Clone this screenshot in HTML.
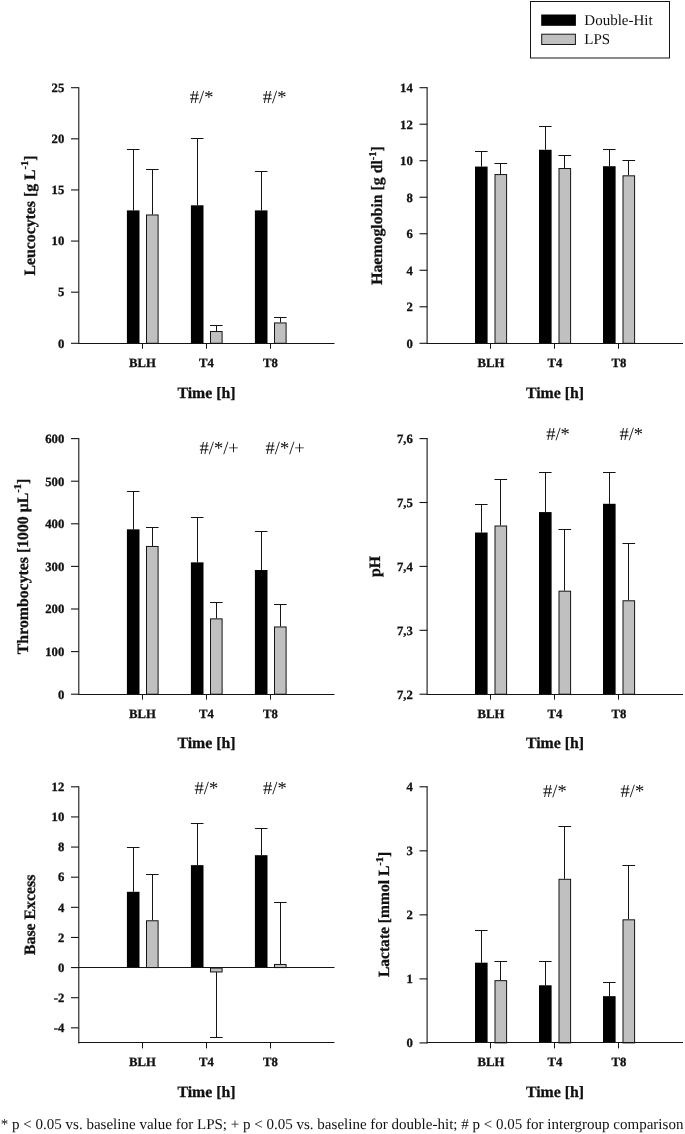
<!DOCTYPE html>
<html lang="en"><head><meta charset="utf-8"><title>Figure</title>
<style>
html,body{margin:0;padding:0;background:#fff;}
svg{display:block;font-family:"Liberation Serif","DejaVu Serif",serif;fill:#111;text-rendering:geometricPrecision;}
</style></head>
<body>
<svg width="685" height="1134" viewBox="0 0 685 1134">
<rect width="685" height="1134" fill="#fff"/>
<g opacity="0.999">
<g>
<line x1="133.5" y1="210.39" x2="133.5" y2="149.04" stroke="#141414" stroke-width="1"/>
<line x1="126.9" y1="149.5" x2="139.5" y2="149.5" stroke="#141414" stroke-width="1"/>
<rect x="126.9" y="210.39" width="12.6" height="132.91" fill="#000"/>
<line x1="152.5" y1="214.48" x2="152.5" y2="169.49" stroke="#141414" stroke-width="1"/>
<line x1="146" y1="169.5" x2="158.6" y2="169.5" stroke="#141414" stroke-width="1"/>
<rect x="146.5" y="214.98" width="11.6" height="128.32" fill="#c0c0c0" stroke="#141414" stroke-width="1"/>
<line x1="197.5" y1="205.28" x2="197.5" y2="138.82" stroke="#141414" stroke-width="1"/>
<line x1="190.9" y1="138.5" x2="203.5" y2="138.5" stroke="#141414" stroke-width="1"/>
<rect x="190.9" y="205.28" width="12.6" height="138.02" fill="#000"/>
<line x1="216.5" y1="331.03" x2="216.5" y2="325.71" stroke="#141414" stroke-width="1"/>
<line x1="210" y1="325.5" x2="222.6" y2="325.5" stroke="#141414" stroke-width="1"/>
<rect x="210.5" y="331.53" width="11.6" height="11.77" fill="#c0c0c0" stroke="#141414" stroke-width="1"/>
<line x1="261.5" y1="210.39" x2="261.5" y2="171.54" stroke="#141414" stroke-width="1"/>
<line x1="254.9" y1="171.5" x2="267.5" y2="171.5" stroke="#141414" stroke-width="1"/>
<rect x="254.9" y="210.39" width="12.6" height="132.91" fill="#000"/>
<line x1="280.5" y1="322.44" x2="280.5" y2="317.74" stroke="#141414" stroke-width="1"/>
<line x1="274" y1="317.5" x2="286.6" y2="317.5" stroke="#141414" stroke-width="1"/>
<rect x="274.5" y="322.94" width="11.6" height="20.36" fill="#c0c0c0" stroke="#141414" stroke-width="1"/>
<line x1="78.8" y1="87.2" x2="78.8" y2="343.8" stroke="#141414" stroke-width="1.1"/>
<line x1="78.5" y1="343.5" x2="334.5" y2="343.5" stroke="#141414" stroke-width="1"/>
<line x1="71" y1="343.3" x2="78.8" y2="343.3" stroke="#141414" stroke-width="1.1"/>
<text x="64.3" y="347.6" font-size="12.7" font-weight="bold" text-anchor="end" stroke="#111" stroke-width="0.3">0</text>
<line x1="71" y1="292.18" x2="78.8" y2="292.18" stroke="#141414" stroke-width="1.1"/>
<text x="64.3" y="296.48" font-size="12.7" font-weight="bold" text-anchor="end" stroke="#111" stroke-width="0.3">5</text>
<line x1="71" y1="241.06" x2="78.8" y2="241.06" stroke="#141414" stroke-width="1.1"/>
<text x="64.3" y="245.36" font-size="12.7" font-weight="bold" text-anchor="end" stroke="#111" stroke-width="0.3">10</text>
<line x1="71" y1="189.94" x2="78.8" y2="189.94" stroke="#141414" stroke-width="1.1"/>
<text x="64.3" y="194.24" font-size="12.7" font-weight="bold" text-anchor="end" stroke="#111" stroke-width="0.3">15</text>
<line x1="71" y1="138.82" x2="78.8" y2="138.82" stroke="#141414" stroke-width="1.1"/>
<text x="64.3" y="143.12" font-size="12.7" font-weight="bold" text-anchor="end" stroke="#111" stroke-width="0.3">20</text>
<line x1="71" y1="87.7" x2="78.8" y2="87.7" stroke="#141414" stroke-width="1.1"/>
<text x="64.3" y="92" font-size="12.7" font-weight="bold" text-anchor="end" stroke="#111" stroke-width="0.3">25</text>
<line x1="142.5" y1="343.3" x2="142.5" y2="348.8" stroke="#141414" stroke-width="1"/>
<text x="142.5" y="366.6" font-size="12.7" font-weight="bold" text-anchor="middle" stroke="#111" stroke-width="0.3">BLH</text>
<line x1="206.5" y1="343.3" x2="206.5" y2="348.8" stroke="#141414" stroke-width="1"/>
<text x="206.5" y="366.6" font-size="12.7" font-weight="bold" text-anchor="middle" stroke="#111" stroke-width="0.3">T4</text>
<line x1="270.5" y1="343.3" x2="270.5" y2="348.8" stroke="#141414" stroke-width="1"/>
<text x="270.5" y="366.6" font-size="12.7" font-weight="bold" text-anchor="middle" stroke="#111" stroke-width="0.3">T8</text>
<text x="206.5" y="397.5" font-size="15.8" font-weight="bold" text-anchor="middle" stroke="#111" stroke-width="0.3">Time [h]</text>
<text transform="translate(34.5 215.5) rotate(-90)" font-size="15.8" font-weight="bold" text-anchor="middle" stroke="#111" stroke-width="0.3">Leucocytes [g L<tspan dy="-6.5" font-size="10.5">-1</tspan><tspan dy="6.5">]</tspan></text>
<text x="201.6" y="102.5" font-size="18.5" font-weight="normal" text-anchor="middle">#/*</text>
<text x="274.6" y="102.5" font-size="18.5" font-weight="normal" text-anchor="middle">#/*</text>
</g>
<g>
<line x1="481.5" y1="166.57" x2="481.5" y2="151.05" stroke="#141414" stroke-width="1"/>
<line x1="475" y1="151.5" x2="487.6" y2="151.5" stroke="#141414" stroke-width="1"/>
<rect x="475" y="166.57" width="12.6" height="176.73" fill="#000"/>
<line x1="500.5" y1="174.06" x2="500.5" y2="163.65" stroke="#141414" stroke-width="1"/>
<line x1="494.5" y1="163.5" x2="507.1" y2="163.5" stroke="#141414" stroke-width="1"/>
<rect x="495" y="174.56" width="11.6" height="168.74" fill="#c0c0c0" stroke="#141414" stroke-width="1"/>
<line x1="545.5" y1="149.77" x2="545.5" y2="126.04" stroke="#141414" stroke-width="1"/>
<line x1="539" y1="126.5" x2="551.6" y2="126.5" stroke="#141414" stroke-width="1"/>
<rect x="539" y="149.77" width="12.6" height="193.53" fill="#000"/>
<line x1="564.5" y1="168.03" x2="564.5" y2="155.25" stroke="#141414" stroke-width="1"/>
<line x1="558.5" y1="155.5" x2="571.1" y2="155.5" stroke="#141414" stroke-width="1"/>
<rect x="559" y="168.53" width="11.6" height="174.77" fill="#c0c0c0" stroke="#141414" stroke-width="1"/>
<line x1="609.5" y1="166.21" x2="609.5" y2="149.23" stroke="#141414" stroke-width="1"/>
<line x1="603" y1="149.5" x2="615.6" y2="149.5" stroke="#141414" stroke-width="1"/>
<rect x="603" y="166.21" width="12.6" height="177.09" fill="#000"/>
<line x1="628.5" y1="175.33" x2="628.5" y2="160.73" stroke="#141414" stroke-width="1"/>
<line x1="622.5" y1="160.5" x2="635.1" y2="160.5" stroke="#141414" stroke-width="1"/>
<rect x="623" y="175.83" width="11.6" height="167.47" fill="#c0c0c0" stroke="#141414" stroke-width="1"/>
<line x1="427.1" y1="87.2" x2="427.1" y2="343.8" stroke="#141414" stroke-width="1.1"/>
<line x1="427" y1="343.5" x2="683" y2="343.5" stroke="#141414" stroke-width="1"/>
<line x1="419.5" y1="343.3" x2="427.3" y2="343.3" stroke="#141414" stroke-width="1.1"/>
<text x="412.8" y="347.6" font-size="12.7" font-weight="bold" text-anchor="end" stroke="#111" stroke-width="0.3">0</text>
<line x1="419.5" y1="306.79" x2="427.3" y2="306.79" stroke="#141414" stroke-width="1.1"/>
<text x="412.8" y="311.09" font-size="12.7" font-weight="bold" text-anchor="end" stroke="#111" stroke-width="0.3">2</text>
<line x1="419.5" y1="270.27" x2="427.3" y2="270.27" stroke="#141414" stroke-width="1.1"/>
<text x="412.8" y="274.57" font-size="12.7" font-weight="bold" text-anchor="end" stroke="#111" stroke-width="0.3">4</text>
<line x1="419.5" y1="233.76" x2="427.3" y2="233.76" stroke="#141414" stroke-width="1.1"/>
<text x="412.8" y="238.06" font-size="12.7" font-weight="bold" text-anchor="end" stroke="#111" stroke-width="0.3">6</text>
<line x1="419.5" y1="197.24" x2="427.3" y2="197.24" stroke="#141414" stroke-width="1.1"/>
<text x="412.8" y="201.54" font-size="12.7" font-weight="bold" text-anchor="end" stroke="#111" stroke-width="0.3">8</text>
<line x1="419.5" y1="160.73" x2="427.3" y2="160.73" stroke="#141414" stroke-width="1.1"/>
<text x="412.8" y="165.03" font-size="12.7" font-weight="bold" text-anchor="end" stroke="#111" stroke-width="0.3">10</text>
<line x1="419.5" y1="124.21" x2="427.3" y2="124.21" stroke="#141414" stroke-width="1.1"/>
<text x="412.8" y="128.51" font-size="12.7" font-weight="bold" text-anchor="end" stroke="#111" stroke-width="0.3">12</text>
<line x1="419.5" y1="87.7" x2="427.3" y2="87.7" stroke="#141414" stroke-width="1.1"/>
<text x="412.8" y="92" font-size="12.7" font-weight="bold" text-anchor="end" stroke="#111" stroke-width="0.3">14</text>
<line x1="490.5" y1="343.3" x2="490.5" y2="348.8" stroke="#141414" stroke-width="1"/>
<text x="491" y="366.6" font-size="12.7" font-weight="bold" text-anchor="middle" stroke="#111" stroke-width="0.3">BLH</text>
<line x1="554.5" y1="343.3" x2="554.5" y2="348.8" stroke="#141414" stroke-width="1"/>
<text x="555" y="366.6" font-size="12.7" font-weight="bold" text-anchor="middle" stroke="#111" stroke-width="0.3">T4</text>
<line x1="618.5" y1="343.3" x2="618.5" y2="348.8" stroke="#141414" stroke-width="1"/>
<text x="619" y="366.6" font-size="12.7" font-weight="bold" text-anchor="middle" stroke="#111" stroke-width="0.3">T8</text>
<text x="555" y="397.5" font-size="15.8" font-weight="bold" text-anchor="middle" stroke="#111" stroke-width="0.3">Time [h]</text>
<text transform="translate(382.4 215.5) rotate(-90)" font-size="15.8" font-weight="bold" text-anchor="middle" stroke="#111" stroke-width="0.3">Haemoglobin [g dl<tspan dy="-6.5" font-size="10.5">-1</tspan><tspan dy="6.5">]</tspan></text>
</g>
<g>
<line x1="133.5" y1="529.34" x2="133.5" y2="491.85" stroke="#141414" stroke-width="1"/>
<line x1="126.9" y1="491.5" x2="139.5" y2="491.5" stroke="#141414" stroke-width="1"/>
<rect x="126.9" y="529.34" width="12.6" height="164.86" fill="#000"/>
<line x1="152.5" y1="545.95" x2="152.5" y2="527.63" stroke="#141414" stroke-width="1"/>
<line x1="146" y1="527.5" x2="158.6" y2="527.5" stroke="#141414" stroke-width="1"/>
<rect x="146.5" y="546.45" width="11.6" height="147.75" fill="#c0c0c0" stroke="#141414" stroke-width="1"/>
<line x1="197.5" y1="562.35" x2="197.5" y2="517.84" stroke="#141414" stroke-width="1"/>
<line x1="190.9" y1="517.5" x2="203.5" y2="517.5" stroke="#141414" stroke-width="1"/>
<rect x="190.9" y="562.35" width="12.6" height="131.85" fill="#000"/>
<line x1="216.5" y1="618.37" x2="216.5" y2="602.61" stroke="#141414" stroke-width="1"/>
<line x1="210" y1="602.5" x2="222.6" y2="602.5" stroke="#141414" stroke-width="1"/>
<rect x="210.5" y="618.87" width="11.6" height="75.33" fill="#c0c0c0" stroke="#141414" stroke-width="1"/>
<line x1="261.5" y1="570.02" x2="261.5" y2="531.68" stroke="#141414" stroke-width="1"/>
<line x1="254.9" y1="531.5" x2="267.5" y2="531.5" stroke="#141414" stroke-width="1"/>
<rect x="254.9" y="570.02" width="12.6" height="124.18" fill="#000"/>
<line x1="280.5" y1="626.47" x2="280.5" y2="604.74" stroke="#141414" stroke-width="1"/>
<line x1="274" y1="604.5" x2="286.6" y2="604.5" stroke="#141414" stroke-width="1"/>
<rect x="274.5" y="626.97" width="11.6" height="67.23" fill="#c0c0c0" stroke="#141414" stroke-width="1"/>
<line x1="78.8" y1="438.1" x2="78.8" y2="694.7" stroke="#141414" stroke-width="1.1"/>
<line x1="78.5" y1="694.5" x2="334.5" y2="694.5" stroke="#141414" stroke-width="1"/>
<line x1="71" y1="694.2" x2="78.8" y2="694.2" stroke="#141414" stroke-width="1.1"/>
<text x="64.3" y="698.5" font-size="12.7" font-weight="bold" text-anchor="end" stroke="#111" stroke-width="0.3">0</text>
<line x1="71" y1="651.6" x2="78.8" y2="651.6" stroke="#141414" stroke-width="1.1"/>
<text x="64.3" y="655.9" font-size="12.7" font-weight="bold" text-anchor="end" stroke="#111" stroke-width="0.3">100</text>
<line x1="71" y1="609" x2="78.8" y2="609" stroke="#141414" stroke-width="1.1"/>
<text x="64.3" y="613.3" font-size="12.7" font-weight="bold" text-anchor="end" stroke="#111" stroke-width="0.3">200</text>
<line x1="71" y1="566.4" x2="78.8" y2="566.4" stroke="#141414" stroke-width="1.1"/>
<text x="64.3" y="570.7" font-size="12.7" font-weight="bold" text-anchor="end" stroke="#111" stroke-width="0.3">300</text>
<line x1="71" y1="523.8" x2="78.8" y2="523.8" stroke="#141414" stroke-width="1.1"/>
<text x="64.3" y="528.1" font-size="12.7" font-weight="bold" text-anchor="end" stroke="#111" stroke-width="0.3">400</text>
<line x1="71" y1="481.2" x2="78.8" y2="481.2" stroke="#141414" stroke-width="1.1"/>
<text x="64.3" y="485.5" font-size="12.7" font-weight="bold" text-anchor="end" stroke="#111" stroke-width="0.3">500</text>
<line x1="71" y1="438.6" x2="78.8" y2="438.6" stroke="#141414" stroke-width="1.1"/>
<text x="64.3" y="442.9" font-size="12.7" font-weight="bold" text-anchor="end" stroke="#111" stroke-width="0.3">600</text>
<line x1="142.5" y1="694.2" x2="142.5" y2="699.7" stroke="#141414" stroke-width="1"/>
<text x="142.5" y="717.5" font-size="12.7" font-weight="bold" text-anchor="middle" stroke="#111" stroke-width="0.3">BLH</text>
<line x1="206.5" y1="694.2" x2="206.5" y2="699.7" stroke="#141414" stroke-width="1"/>
<text x="206.5" y="717.5" font-size="12.7" font-weight="bold" text-anchor="middle" stroke="#111" stroke-width="0.3">T4</text>
<line x1="270.5" y1="694.2" x2="270.5" y2="699.7" stroke="#141414" stroke-width="1"/>
<text x="270.5" y="717.5" font-size="12.7" font-weight="bold" text-anchor="middle" stroke="#111" stroke-width="0.3">T8</text>
<text x="206.5" y="748.4" font-size="15.8" font-weight="bold" text-anchor="middle" stroke="#111" stroke-width="0.3">Time [h]</text>
<text transform="translate(27.9 566.4) rotate(-90)" font-size="15.8" font-weight="bold" text-anchor="middle" stroke="#111" stroke-width="0.3">Thrombocytes [1000 µL<tspan dy="-6.5" font-size="10.5">-1</tspan><tspan dy="6.5">]</tspan></text>
<text x="219.2" y="454.3" font-size="18.5" font-weight="normal" text-anchor="middle">#/*/+</text>
<text x="285.2" y="454.3" font-size="18.5" font-weight="normal" text-anchor="middle">#/*/+</text>
</g>
<g>
<line x1="481.5" y1="532.53" x2="481.5" y2="504.42" stroke="#141414" stroke-width="1"/>
<line x1="475" y1="504.5" x2="487.6" y2="504.5" stroke="#141414" stroke-width="1"/>
<rect x="475" y="532.53" width="12.6" height="161.67" fill="#000"/>
<line x1="500.5" y1="525.5" x2="500.5" y2="479.5" stroke="#141414" stroke-width="1"/>
<line x1="494.5" y1="479.5" x2="507.1" y2="479.5" stroke="#141414" stroke-width="1"/>
<rect x="495" y="526" width="11.6" height="168.2" fill="#c0c0c0" stroke="#141414" stroke-width="1"/>
<line x1="545.5" y1="512.08" x2="545.5" y2="472.47" stroke="#141414" stroke-width="1"/>
<line x1="539" y1="472.5" x2="551.6" y2="472.5" stroke="#141414" stroke-width="1"/>
<rect x="539" y="512.08" width="12.6" height="182.12" fill="#000"/>
<line x1="564.5" y1="590.68" x2="564.5" y2="529.98" stroke="#141414" stroke-width="1"/>
<line x1="558.5" y1="529.5" x2="571.1" y2="529.5" stroke="#141414" stroke-width="1"/>
<rect x="559" y="591.18" width="11.6" height="103.02" fill="#c0c0c0" stroke="#141414" stroke-width="1"/>
<line x1="609.5" y1="503.78" x2="609.5" y2="472.47" stroke="#141414" stroke-width="1"/>
<line x1="603" y1="472.5" x2="615.6" y2="472.5" stroke="#141414" stroke-width="1"/>
<rect x="603" y="503.78" width="12.6" height="190.42" fill="#000"/>
<line x1="628.5" y1="600.27" x2="628.5" y2="543.4" stroke="#141414" stroke-width="1"/>
<line x1="622.5" y1="543.5" x2="635.1" y2="543.5" stroke="#141414" stroke-width="1"/>
<rect x="623" y="600.77" width="11.6" height="93.43" fill="#c0c0c0" stroke="#141414" stroke-width="1"/>
<line x1="427.1" y1="438.1" x2="427.1" y2="694.7" stroke="#141414" stroke-width="1.1"/>
<line x1="427" y1="694.5" x2="683" y2="694.5" stroke="#141414" stroke-width="1"/>
<line x1="419.5" y1="694.2" x2="427.3" y2="694.2" stroke="#141414" stroke-width="1.1"/>
<text x="412.8" y="698.5" font-size="12.7" font-weight="bold" text-anchor="end" stroke="#111" stroke-width="0.3">7,2</text>
<line x1="419.5" y1="630.3" x2="427.3" y2="630.3" stroke="#141414" stroke-width="1.1"/>
<text x="412.8" y="634.6" font-size="12.7" font-weight="bold" text-anchor="end" stroke="#111" stroke-width="0.3">7,3</text>
<line x1="419.5" y1="566.4" x2="427.3" y2="566.4" stroke="#141414" stroke-width="1.1"/>
<text x="412.8" y="570.7" font-size="12.7" font-weight="bold" text-anchor="end" stroke="#111" stroke-width="0.3">7,4</text>
<line x1="419.5" y1="502.5" x2="427.3" y2="502.5" stroke="#141414" stroke-width="1.1"/>
<text x="412.8" y="506.8" font-size="12.7" font-weight="bold" text-anchor="end" stroke="#111" stroke-width="0.3">7,5</text>
<line x1="419.5" y1="438.6" x2="427.3" y2="438.6" stroke="#141414" stroke-width="1.1"/>
<text x="412.8" y="442.9" font-size="12.7" font-weight="bold" text-anchor="end" stroke="#111" stroke-width="0.3">7,6</text>
<line x1="490.5" y1="694.2" x2="490.5" y2="699.7" stroke="#141414" stroke-width="1"/>
<text x="491" y="717.5" font-size="12.7" font-weight="bold" text-anchor="middle" stroke="#111" stroke-width="0.3">BLH</text>
<line x1="554.5" y1="694.2" x2="554.5" y2="699.7" stroke="#141414" stroke-width="1"/>
<text x="555" y="717.5" font-size="12.7" font-weight="bold" text-anchor="middle" stroke="#111" stroke-width="0.3">T4</text>
<line x1="618.5" y1="694.2" x2="618.5" y2="699.7" stroke="#141414" stroke-width="1"/>
<text x="619" y="717.5" font-size="12.7" font-weight="bold" text-anchor="middle" stroke="#111" stroke-width="0.3">T8</text>
<text x="555" y="748.4" font-size="15.8" font-weight="bold" text-anchor="middle" stroke="#111" stroke-width="0.3">Time [h]</text>
<text transform="translate(380.1 566.4) rotate(-90)" font-size="15.8" font-weight="bold" text-anchor="middle" stroke="#111" stroke-width="0.3">pH</text>
<text x="558" y="439.8" font-size="18.5" font-weight="normal" text-anchor="middle">#/*</text>
<text x="631.3" y="439.8" font-size="18.5" font-weight="normal" text-anchor="middle">#/*</text>
</g>
<g>
<line x1="133.5" y1="891.8" x2="133.5" y2="847.06" stroke="#141414" stroke-width="1"/>
<line x1="126.9" y1="847.5" x2="139.5" y2="847.5" stroke="#141414" stroke-width="1"/>
<rect x="126.9" y="891.8" width="12.6" height="75.78" fill="#000"/>
<line x1="152.5" y1="920.27" x2="152.5" y2="874.78" stroke="#141414" stroke-width="1"/>
<line x1="146" y1="874.5" x2="158.6" y2="874.5" stroke="#141414" stroke-width="1"/>
<rect x="146.5" y="920.77" width="11.6" height="46.8" fill="#c0c0c0" stroke="#141414" stroke-width="1"/>
<line x1="197.5" y1="865.14" x2="197.5" y2="823.26" stroke="#141414" stroke-width="1"/>
<line x1="190.9" y1="823.5" x2="203.5" y2="823.5" stroke="#141414" stroke-width="1"/>
<rect x="190.9" y="865.14" width="12.6" height="102.44" fill="#000"/>
<line x1="216.5" y1="971.95" x2="216.5" y2="1037.48" stroke="#141414" stroke-width="1"/>
<line x1="210" y1="1037.5" x2="222.6" y2="1037.5" stroke="#141414" stroke-width="1"/>
<rect x="210.5" y="968.08" width="11.6" height="3.87" fill="#c0c0c0" stroke="#141414" stroke-width="1"/>
<line x1="261.5" y1="855.19" x2="261.5" y2="828.68" stroke="#141414" stroke-width="1"/>
<line x1="254.9" y1="828.5" x2="267.5" y2="828.5" stroke="#141414" stroke-width="1"/>
<rect x="254.9" y="855.19" width="12.6" height="112.38" fill="#000"/>
<line x1="280.5" y1="963.96" x2="280.5" y2="902.35" stroke="#141414" stroke-width="1"/>
<line x1="274" y1="902.5" x2="286.6" y2="902.5" stroke="#141414" stroke-width="1"/>
<rect x="274.5" y="964.46" width="11.6" height="3.12" fill="#c0c0c0" stroke="#141414" stroke-width="1"/>
<line x1="78.8" y1="786.3" x2="78.8" y2="1043.4" stroke="#141414" stroke-width="1.1"/>
<line x1="78.5" y1="1042.5" x2="334.5" y2="1042.5" stroke="#141414" stroke-width="1"/>
<line x1="78.5" y1="967.5" x2="334.5" y2="967.5" stroke="#141414" stroke-width="1"/>
<line x1="71" y1="1027.84" x2="78.8" y2="1027.84" stroke="#141414" stroke-width="1.1"/>
<text x="64.3" y="1032.14" font-size="12.7" font-weight="bold" text-anchor="end" stroke="#111" stroke-width="0.3">-4</text>
<line x1="71" y1="997.71" x2="78.8" y2="997.71" stroke="#141414" stroke-width="1.1"/>
<text x="64.3" y="1002.01" font-size="12.7" font-weight="bold" text-anchor="end" stroke="#111" stroke-width="0.3">-2</text>
<line x1="71" y1="967.58" x2="78.8" y2="967.58" stroke="#141414" stroke-width="1.1"/>
<text x="64.3" y="971.88" font-size="12.7" font-weight="bold" text-anchor="end" stroke="#111" stroke-width="0.3">0</text>
<line x1="71" y1="937.45" x2="78.8" y2="937.45" stroke="#141414" stroke-width="1.1"/>
<text x="64.3" y="941.75" font-size="12.7" font-weight="bold" text-anchor="end" stroke="#111" stroke-width="0.3">2</text>
<line x1="71" y1="907.32" x2="78.8" y2="907.32" stroke="#141414" stroke-width="1.1"/>
<text x="64.3" y="911.62" font-size="12.7" font-weight="bold" text-anchor="end" stroke="#111" stroke-width="0.3">4</text>
<line x1="71" y1="877.19" x2="78.8" y2="877.19" stroke="#141414" stroke-width="1.1"/>
<text x="64.3" y="881.49" font-size="12.7" font-weight="bold" text-anchor="end" stroke="#111" stroke-width="0.3">6</text>
<line x1="71" y1="847.06" x2="78.8" y2="847.06" stroke="#141414" stroke-width="1.1"/>
<text x="64.3" y="851.36" font-size="12.7" font-weight="bold" text-anchor="end" stroke="#111" stroke-width="0.3">8</text>
<line x1="71" y1="816.93" x2="78.8" y2="816.93" stroke="#141414" stroke-width="1.1"/>
<text x="64.3" y="821.23" font-size="12.7" font-weight="bold" text-anchor="end" stroke="#111" stroke-width="0.3">10</text>
<line x1="71" y1="786.8" x2="78.8" y2="786.8" stroke="#141414" stroke-width="1.1"/>
<text x="64.3" y="791.1" font-size="12.7" font-weight="bold" text-anchor="end" stroke="#111" stroke-width="0.3">12</text>
<line x1="142.5" y1="1042.9" x2="142.5" y2="1048.4" stroke="#141414" stroke-width="1"/>
<text x="142.5" y="1066.2" font-size="12.7" font-weight="bold" text-anchor="middle" stroke="#111" stroke-width="0.3">BLH</text>
<line x1="206.5" y1="1042.9" x2="206.5" y2="1048.4" stroke="#141414" stroke-width="1"/>
<text x="206.5" y="1066.2" font-size="12.7" font-weight="bold" text-anchor="middle" stroke="#111" stroke-width="0.3">T4</text>
<line x1="270.5" y1="1042.9" x2="270.5" y2="1048.4" stroke="#141414" stroke-width="1"/>
<text x="270.5" y="1066.2" font-size="12.7" font-weight="bold" text-anchor="middle" stroke="#111" stroke-width="0.3">T8</text>
<text x="206.5" y="1097.1" font-size="15.8" font-weight="bold" text-anchor="middle" stroke="#111" stroke-width="0.3">Time [h]</text>
<text transform="translate(34.5 914.85) rotate(-90)" font-size="15.8" font-weight="bold" text-anchor="middle" stroke="#111" stroke-width="0.3">Base Excess</text>
<text x="206.4" y="793.7" font-size="18.5" font-weight="normal" text-anchor="middle">#/*</text>
<text x="274.9" y="793.7" font-size="18.5" font-weight="normal" text-anchor="middle">#/*</text>
</g>
<g>
<line x1="481.5" y1="962.68" x2="481.5" y2="930.22" stroke="#141414" stroke-width="1"/>
<line x1="475" y1="930.5" x2="487.6" y2="930.5" stroke="#141414" stroke-width="1"/>
<rect x="475" y="962.68" width="12.6" height="80.22" fill="#000"/>
<line x1="500.5" y1="980.16" x2="500.5" y2="961.2" stroke="#141414" stroke-width="1"/>
<line x1="494.5" y1="961.5" x2="507.1" y2="961.5" stroke="#141414" stroke-width="1"/>
<rect x="495" y="980.66" width="11.6" height="62.24" fill="#c0c0c0" stroke="#141414" stroke-width="1"/>
<line x1="545.5" y1="985.28" x2="545.5" y2="961.2" stroke="#141414" stroke-width="1"/>
<line x1="539" y1="961.5" x2="551.6" y2="961.5" stroke="#141414" stroke-width="1"/>
<rect x="539" y="985.28" width="12.6" height="57.62" fill="#000"/>
<line x1="564.5" y1="878.8" x2="564.5" y2="826.5" stroke="#141414" stroke-width="1"/>
<line x1="558.5" y1="826.5" x2="571.1" y2="826.5" stroke="#141414" stroke-width="1"/>
<rect x="559" y="879.3" width="11.6" height="163.6" fill="#c0c0c0" stroke="#141414" stroke-width="1"/>
<line x1="609.5" y1="996.16" x2="609.5" y2="982.08" stroke="#141414" stroke-width="1"/>
<line x1="603" y1="982.5" x2="615.6" y2="982.5" stroke="#141414" stroke-width="1"/>
<rect x="603" y="996.16" width="12.6" height="46.74" fill="#000"/>
<line x1="628.5" y1="919.33" x2="628.5" y2="865.81" stroke="#141414" stroke-width="1"/>
<line x1="622.5" y1="865.5" x2="635.1" y2="865.5" stroke="#141414" stroke-width="1"/>
<rect x="623" y="919.83" width="11.6" height="123.07" fill="#c0c0c0" stroke="#141414" stroke-width="1"/>
<line x1="427.1" y1="786.3" x2="427.1" y2="1043.4" stroke="#141414" stroke-width="1.1"/>
<line x1="427" y1="1042.5" x2="683" y2="1042.5" stroke="#141414" stroke-width="1"/>
<line x1="419.5" y1="1042.9" x2="427.3" y2="1042.9" stroke="#141414" stroke-width="1.1"/>
<text x="412.8" y="1047.2" font-size="12.7" font-weight="bold" text-anchor="end" stroke="#111" stroke-width="0.3">0</text>
<line x1="419.5" y1="978.88" x2="427.3" y2="978.88" stroke="#141414" stroke-width="1.1"/>
<text x="412.8" y="983.17" font-size="12.7" font-weight="bold" text-anchor="end" stroke="#111" stroke-width="0.3">1</text>
<line x1="419.5" y1="914.85" x2="427.3" y2="914.85" stroke="#141414" stroke-width="1.1"/>
<text x="412.8" y="919.15" font-size="12.7" font-weight="bold" text-anchor="end" stroke="#111" stroke-width="0.3">2</text>
<line x1="419.5" y1="850.83" x2="427.3" y2="850.83" stroke="#141414" stroke-width="1.1"/>
<text x="412.8" y="855.12" font-size="12.7" font-weight="bold" text-anchor="end" stroke="#111" stroke-width="0.3">3</text>
<line x1="419.5" y1="786.8" x2="427.3" y2="786.8" stroke="#141414" stroke-width="1.1"/>
<text x="412.8" y="791.1" font-size="12.7" font-weight="bold" text-anchor="end" stroke="#111" stroke-width="0.3">4</text>
<line x1="490.5" y1="1042.9" x2="490.5" y2="1048.4" stroke="#141414" stroke-width="1"/>
<text x="491" y="1066.2" font-size="12.7" font-weight="bold" text-anchor="middle" stroke="#111" stroke-width="0.3">BLH</text>
<line x1="554.5" y1="1042.9" x2="554.5" y2="1048.4" stroke="#141414" stroke-width="1"/>
<text x="555" y="1066.2" font-size="12.7" font-weight="bold" text-anchor="middle" stroke="#111" stroke-width="0.3">T4</text>
<line x1="618.5" y1="1042.9" x2="618.5" y2="1048.4" stroke="#141414" stroke-width="1"/>
<text x="619" y="1066.2" font-size="12.7" font-weight="bold" text-anchor="middle" stroke="#111" stroke-width="0.3">T8</text>
<text x="555" y="1097.1" font-size="15.8" font-weight="bold" text-anchor="middle" stroke="#111" stroke-width="0.3">Time [h]</text>
<text transform="translate(389.1 914.45) rotate(-90)" font-size="15.55" font-weight="bold" text-anchor="middle" stroke="#111" stroke-width="0.3">Lactate [mmol L<tspan dy="-6.5" font-size="10.5">-1</tspan><tspan dy="6.5">]</tspan></text>
<text x="554.9" y="796.8" font-size="18.5" font-weight="normal" text-anchor="middle">#/*</text>
<text x="632.4" y="796.8" font-size="18.5" font-weight="normal" text-anchor="middle">#/*</text>
</g>
<rect x="530.5" y="1.5" width="139" height="56.5" fill="#fff" stroke="#141414" stroke-width="1"/>
<rect x="541.2" y="14.5" width="34.7" height="11.3" fill="#000"/>
<rect x="541.7" y="34.2" width="33.7" height="10.3" fill="#c0c0c0" stroke="#141414" stroke-width="1"/>
<text x="584.3" y="25.3" font-size="15" font-weight="normal" text-anchor="start">Double-Hit</text>
<text x="584.3" y="44.3" font-size="15" font-weight="normal" text-anchor="start">LPS</text>
<text x="0.8" y="1128.8" font-size="15" font-weight="normal" text-anchor="start" textLength="682.6" lengthAdjust="spacing">* p &lt; 0.05 vs. baseline value for LPS; + p &lt; 0.05 vs. baseline for double-hit; # p &lt; 0.05 for intergroup comparison</text>
</g>
</svg>
</body></html>
